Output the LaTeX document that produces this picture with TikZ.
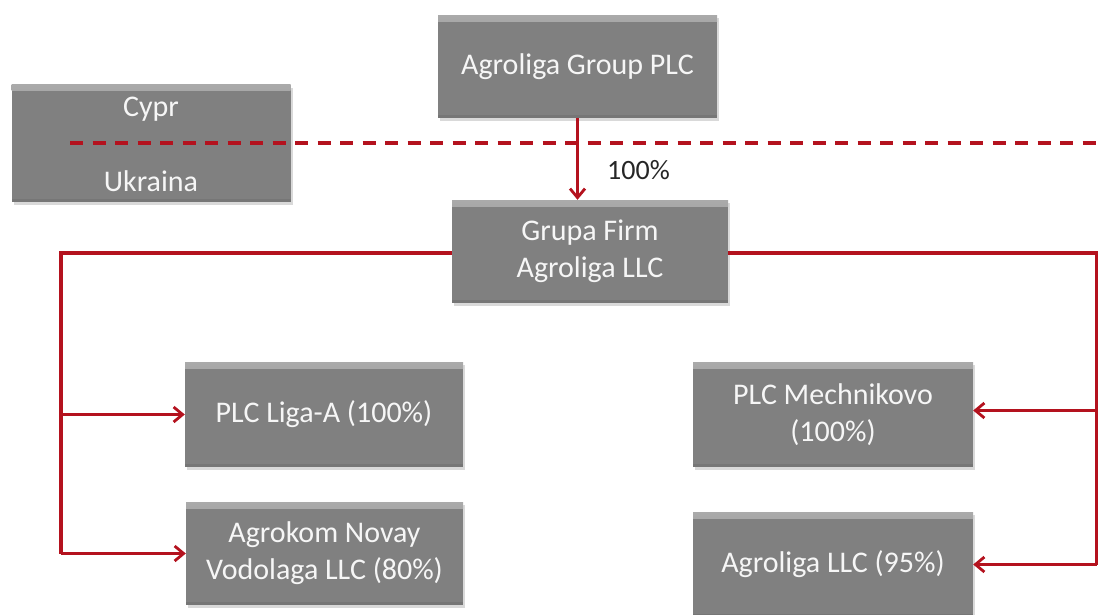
\documentclass[tikz,border=0pt]{standalone}
\usepackage{fontspec}
\setmainfont{Carlito}
\usetikzlibrary{arrows.meta,shadows}
\definecolor{boxgray}{RGB}{128,128,128}
\definecolor{boxtop}{RGB}{170,170,170}
\definecolor{boxtext}{RGB}{246,246,246}
\definecolor{linkred}{RGB}{180,18,30}
\tikzset{
  orgbox/.style={draw=none, fill=boxgray, text=boxtext, align=center,
    font=\fontsize{30}{37}\selectfont, inner sep=0pt,
    minimum width=278pt, minimum height=104pt,
    drop shadow={shadow xshift=2pt, shadow yshift=-3pt, opacity=0.3},
    path picture={
      \fill[top color=boxtop, bottom color=boxgray]
        (path picture bounding box.north west) rectangle
        ([yshift=-6pt]path picture bounding box.north east);
      \fill[boxgray!85!black, opacity=0.5]
        ([yshift=3pt]path picture bounding box.south west) rectangle
        (path picture bounding box.south east);
    }},
  conn/.style={draw=linkred, line width=3.4pt},
  arr/.style={conn, -{Straight Barb[length=9pt, width=15pt, line width=2.8pt]}},
  border/.style={draw=linkred, line width=4.4pt, dash pattern=on 13pt off 9.5pt},
  pct/.style={text=black!85, font=\fontsize{28}{32}\selectfont, inner sep=0pt}
}
\begin{document}
\begin{tikzpicture}[x=1pt,y=-1pt]
\useasboundingbox (0,0) rectangle (1099,614);
% boxes
\node[orgbox, minimum width=279pt, minimum height=117pt] (region) at (151,143) {};
\node[text=boxtext, font=\fontsize{30}{34}\selectfont, inner sep=0pt] (cypr) at (151,109) {Cypr};
\node[text=boxtext, font=\fontsize{30}{34}\selectfont, inner sep=0pt] (ukr) at (151,181) {Ukraina};
\node[orgbox, minimum width=279pt, minimum height=103pt] (agp) at (577.5,66.5) {Agroliga Group PLC};
\node[orgbox, minimum width=276pt, minimum height=103pt] (grupa) at (590,251.5) {Grupa Firm\\Agroliga LLC};
\node[orgbox, minimum width=278pt, minimum height=105pt] (liga) at (324,414.5) {PLC Liga-A (100\%)};
\node[orgbox, minimum width=277pt, minimum height=103pt] (agrokom) at (324.5,553.5) {Agrokom Novay\\Vodolaga LLC (80\%)};
\node[orgbox, minimum width=280pt, minimum height=105pt] (mech) at (833,414.5) {PLC Mechnikovo\\(100\%)};
\node[orgbox, minimum width=280pt, minimum height=105pt] (agllc) at (833,564.5) {Agroliga LLC (95\%)};
% border line
\coordinate (bstart) at (70,143);
\coordinate (bend) at (1102,143);
\draw[border] (bstart) -- (bend);
% connectors
\coordinate (lx) at (61,0);
\coordinate (rx) at (1096.5,0);
\draw[arr] (agp.south) -- (agp.south |- grupa.north);
\node[pct, anchor=west] (p100) at (607,170) {100\%};
\draw[conn] ([yshift=-1.5pt]grupa.west) -- ([yshift=-1.5pt]grupa.west -| lx) -- (agrokom.west -| lx);
\draw[arr] (liga.west -| lx) -- (liga.west);
\draw[arr] (agrokom.west -| lx) -- (agrokom.west);
\draw[conn] ([yshift=-1.5pt]grupa.east) -- ([yshift=-1.5pt]grupa.east -| rx) -- (agllc.east -| rx);
\draw[arr] ([yshift=4pt]mech.east -| rx) -- ([yshift=4pt]mech.east);
\draw[arr] (agllc.east -| rx) -- (agllc.east);
\end{tikzpicture}
\end{document}
